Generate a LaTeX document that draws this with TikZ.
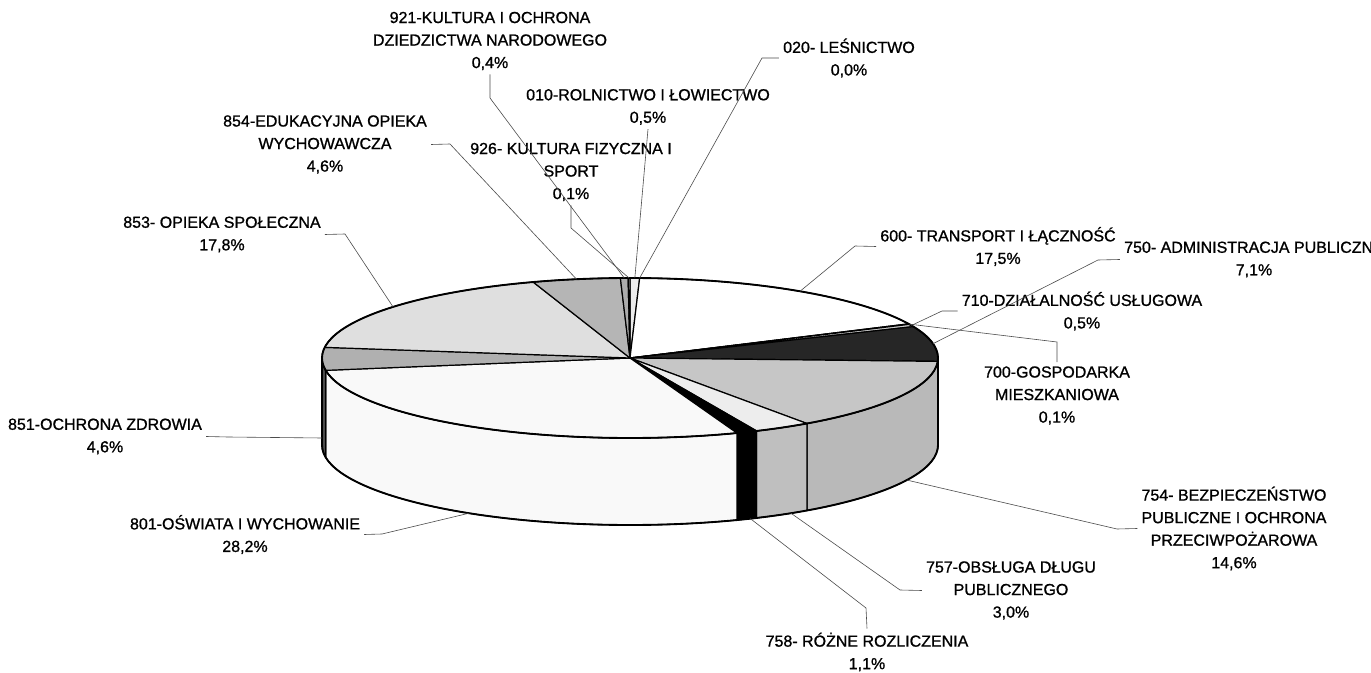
\documentclass[tikz,border=0pt]{standalone}
\usepackage{fontspec}
\setmainfont{Liberation Sans}
\newfontfamily\lblfont{Liberation Sans}[FakeBold=1.0]
\newcommand\PieTop[3]{\filldraw[#3] (0,0) -- (#1:308 and 80) arc[start angle=#1,end angle=#2,x radius=308,y radius=80] -- cycle;}
\newcommand\PieWall[3]{\filldraw[#3] (#1:308 and 80) arc[start angle=#1,end angle=#2,x radius=308,y radius=80] -- ++(0,-87) arc[start angle=#2,end angle=#1,x radius=308,y radius=80] -- cycle;}
\begin{document}
\begin{tikzpicture}[x=0.75pt,y=0.75pt,
  lbl/.style={align=center, font=\lblfont\fontsize{12}{16.9}\selectfont, inner sep=3pt},
  leader/.style={draw=black!70, line width=0.45pt},
  slice/.style={draw=black, line width=0.9pt, line join=round},
  edge/.style={draw=black, line width=1.4pt, line join=round},
]
\useasboundingbox (0,0) rectangle (1371,672);
\clip (0,0) rectangle (1371,672);
\fill[white] (0,0) rectangle (1371,672);

% ---------------- pie ----------------
\begin{scope}[shift={(630,314)}]
  % side walls (front half)
  \PieWall{0}{-2.43}{slice,fill=black!85}
  \PieWall{-2.43}{-54.94}{slice,fill=gray!55}
  \PieWall{-54.94}{-65.73}{slice,fill=gray!50}
  \PieWall{-65.73}{-69.69}{slice,fill=black}
  \PieWall{-69.69}{-171.11}{slice,fill=gray!5}
  \PieWall{-171.11}{-180}{slice,fill=black!70}
  % top faces
  \PieTop{90}{88.20}{slice,fill=gray!15}
  \PieTop{88.20}{25.26}{slice,fill=white}
  \PieTop{25.26}{24.90}{slice,fill=gray!30}
  \PieTop{24.90}{23.10}{slice,fill=gray!40}
  \PieTop{23.10}{-2.43}{slice,fill=black!85}
  \PieTop{-2.43}{-54.94}{slice,fill=gray!45}
  \PieTop{-54.94}{-65.73}{slice,fill=gray!14}
  \PieTop{-65.73}{-69.69}{slice,fill=black}
  \PieTop{-69.69}{-171.11}{slice,fill=gray!5}
  \PieTop{-171.11}{-187.65}{slice,fill=gray!62}
  \PieTop{-187.65}{-251.67}{slice,fill=gray!25}
  \PieTop{-251.67}{-268.21}{slice,fill=gray!58}
  \PieTop{-268.21}{-269.65}{slice,fill=gray!65}
  \PieTop{-269.65}{-270}{slice,fill=gray!30}
  % outer edges
  \draw[edge] (0,0) ellipse[x radius=308, y radius=80];
  \draw[edge] (-308,0) -- (-308,-87) arc[start angle=180,end angle=360,x radius=308,y radius=80] -- (308,0);
  % leader anchor points on the pie
  \coordinate (p921) at (91.07:308 and 80);
  \coordinate (p010) at (89.1:308 and 80);
  \coordinate (p020) at (88.2:308 and 80);
  \coordinate (p926) at (90.18:308 and 80);
  \coordinate (p854) at (100:308 and 80);
  \coordinate (p853) at (140.3:308 and 80);
  \coordinate (p600) at (56.5:308 and 80);
  \coordinate (p750) at (10.3:308 and 80);
  \coordinate (p710) at (24:308 and 80);
  \coordinate (p700) at (25.08:308 and 80);
  \path (-26:308 and 80) ++(0,-87) coordinate (p754);
  \path (-58.5:308 and 80) ++(0,-87) coordinate (p757);
  \path (-67:308 and 80) ++(0,-87) coordinate (p758);
  \path (-121.5:308 and 80) ++(0,-87) coordinate (p801);
  \coordinate (p851) at (-308,-80);
\end{scope}

% ---------------- labels ----------------
\node[lbl] (n921) at (490,631) {921-KULTURA I OCHRONA\\DZIEDZICTWA NARODOWEGO\\0,4\%};
\node[lbl] (n010) at (648,565) {010-ROLNICTWO I ŁOWIECTWO\\0,5\%};
\node[lbl] (n020) at (849,614) {020- LEŚNICTWO\\0,0\%};
\node[lbl] (n854) at (325,527.5) {854-EDUKACYJNA OPIEKA\\WYCHOWAWCZA\\4,6\%};
\node[lbl] (n926) at (571,500) {926- KULTURA FIZYCZNA I\\SPORT\\0,1\%};
\node[lbl] (n853) at (222,437.5) {853- OPIEKA SPOŁECZNA\\17,8\%};
\node[lbl] (n600) at (998,425.5) {600- TRANSPORT I ŁĄCZNOŚĆ\\17,5\%};
\node[lbl] (n750) at (1254,412.5) {750- ADMINISTRACJA PUBLICZNA\\7,1\%};
\node[lbl] (n710) at (1082,361) {710-DZIAŁALNOŚĆ USŁUGOWA\\0,5\%};
\node[lbl] (n700) at (1057,276.5) {700-GOSPODARKA\\MIESZKANIOWA\\0,1\%};
\node[lbl] (n851) at (105,235.5) {851-OCHRONA ZDROWIA\\4,6\%};
\node[lbl] (n801) at (245,137.5) {801-OŚWIATA I WYCHOWANIE\\28,2\%};
\node[lbl] (n754) at (1234,143.5) {754- BEZPIECZEŃSTWO\\PUBLICZNE I OCHRONA\\PRZECIWPOŻAROWA\\14,6\%};
\node[lbl] (n757) at (1011,81.5) {757-OBSŁUGA DŁUGU\\PUBLICZNEGO\\3,0\%};
\node[lbl] (n758) at (867,20) {758- RÓŻNE ROZLICZENIA\\1,1\%};

% ---------------- bends ----------------
\coordinate (b921) at (490,574);
\coordinate (b926) at (571,444);
\coordinate (b854) at (450,528);
\coordinate (b853) at (345,438);
\coordinate (b020) at (762,614);
\coordinate (b600) at (855,426);
\coordinate (b750) at (1098,412);
\coordinate (b710) at (942,361);
\coordinate (b700) at (1057,330);
\coordinate (b754) at (1117,143);
\coordinate (b757) at (900,82);
\coordinate (b758) at (866,64);
\coordinate (b801) at (382,138);
\coordinate (b851) at (228,235);

% ---------------- leaders ----------------
\draw[leader] (n921.south) -- (b921) -- (p921);
\draw[leader] (n010.south) -- (p010);
\draw[leader] (n020.west) -- (b020) -- (p020);
\draw[leader] (n926.south) -- (b926) -- (p926);
\draw[leader] (n854.east) -- (b854) -- (p854);
\draw[leader] (n853.east) -- (b853) -- (p853);
\draw[leader] (n600.west) -- (b600) -- (p600);
\draw[leader] (n750.west) -- (b750) -- (p750);
\draw[leader] (n710.west) -- (b710) -- (p710);
\draw[leader] (p700) -- (b700) -- (n700.north);
\draw[leader] (n754.west) -- (b754) -- (p754);
\draw[leader] (n757.west) -- (b757) -- (p757);
\draw[leader] (n758.north) -- (b758) -- (p758);
\draw[leader] (n801.east) -- (b801) -- (p801);
\draw[leader] (n851.east) -- (b851) -- (p851);
\end{tikzpicture}
\end{document}
